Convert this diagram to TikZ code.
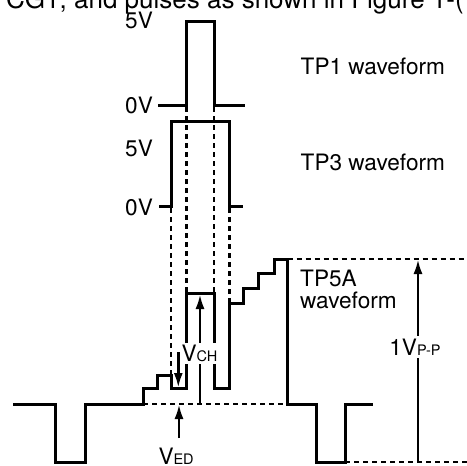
\documentclass[tikz,border=0pt]{standalone}
\usepackage{fontspec}
\setmainfont{TeX Gyre Heros}
\usetikzlibrary{arrows.meta}
\newcommand\smallsub[1]{{\fontsize{14.5}{16}\selectfont #1}}
\begin{document}
\begin{tikzpicture}[x=1pt,y=-1pt,
  wave/.style={line width=3pt, line join=miter},
  guide/.style={line width=2.8pt, dash pattern=on 5pt off 4pt},
  meas/.style={line width=2.8pt, -{Latex[length=15pt,width=9pt]}},
  lbl/.style={font=\fontsize{22.6}{26}\selectfont, inner sep=0pt, anchor=base west},
  tag/.style={font=\fontsize{22.6}{26}\selectfont, fill=white, inner sep=2.5pt}
]
\useasboundingbox (0,0) rectangle (467,466);

% clipped caption line at the top
\node[font=\fontsize{26}{30}\selectfont, inner sep=0pt, anchor=base west] (caption) at (6,8.3) {CG1, and pulses as shown in Figure 1-(};

% level labels
\node[lbl] (tpafive) at (125,28.3) {5V};
\node[lbl] (tpazero) at (125,113.3) {0V};
\node[lbl] (tpbfive) at (125,156.7) {5V};
\node[lbl] (tpbzero) at (125,215) {0V};
\node[lbl] (tponename) at (300.5,74.3) {TP1 waveform};
\node[lbl] (tpthreename) at (300.5,170) {TP3 waveform};
\node[lbl] (tpfivename) at (300,286.7) {TP5A};
\node[lbl] (tpfivewave) at (300,308.5) {waveform};

% guides
\draw[guide] (186.5,107) -- (186.5,293);
\draw[guide] (214,107) -- (214,293);
\draw[guide] (171,208) -- (171,375);
\draw[guide] (229.5,208) -- (229.5,303);
\draw[guide] (143,404) -- (287.5,404);
\draw[guide] (287.5,259) -- (467,259);
\draw[guide] (345,462) -- (467,462);

% TP1 waveform
\draw[wave] (158,105) -| (186.5,21) -| (214,105) -- (245,105);
% TP3 waveform
\draw[wave] (159,206) -| (171,121) -| (229.5,206) -- (243,206);
% TP5A waveform
\draw[wave] (13,404) -- (55,404) -- (55,462) -- (85,462) -- (85,404) -- (143,404)
  -- (143,388) -- (157,388) -- (157,375) -- (171,375) -- (171,388) -- (186.5,388)
  -- (186.5,293) -- (214,293) -- (214,388) -- (229.5,388) -- (229.5,303)
  -- (243.5,303) -- (243.5,288) -- (258.5,288) -- (258.5,273) -- (274,273)
  -- (274,259) -- (287.5,259) -- (287.5,404) -- (316,404) -- (316,462)
  -- (345,462) -- (345,404) -- (373,404);

% 1Vp-p
\coordinate (ppbot) at (418,462);
\coordinate (pptop) at (418,259);
\draw[meas] (ppbot) -- (pptop);
\node[tag] (vpp) at (415,346.8) {1V\smallsub{P-P}};

% VCH
\coordinate (chbase) at (200,404);
\coordinate (chtop) at (200,294);
\draw[meas] (chbase) -- (chtop);
\node[tag] (vch) at (199.5,353.5) {V\smallsub{CH}};
\coordinate (dntop) at (178.3,352);
\coordinate (dnlow) at (178.3,388);
\draw[meas] (dntop) -- (dnlow);

% VED
\coordinate (edfoot) at (179,438);
\coordinate (edtip) at (179,404);
\draw[meas] (edfoot) -- (edtip);
\node[lbl] (ved) at (158.3,464) {V\smallsub{ED}};
\end{tikzpicture}
\end{document}
